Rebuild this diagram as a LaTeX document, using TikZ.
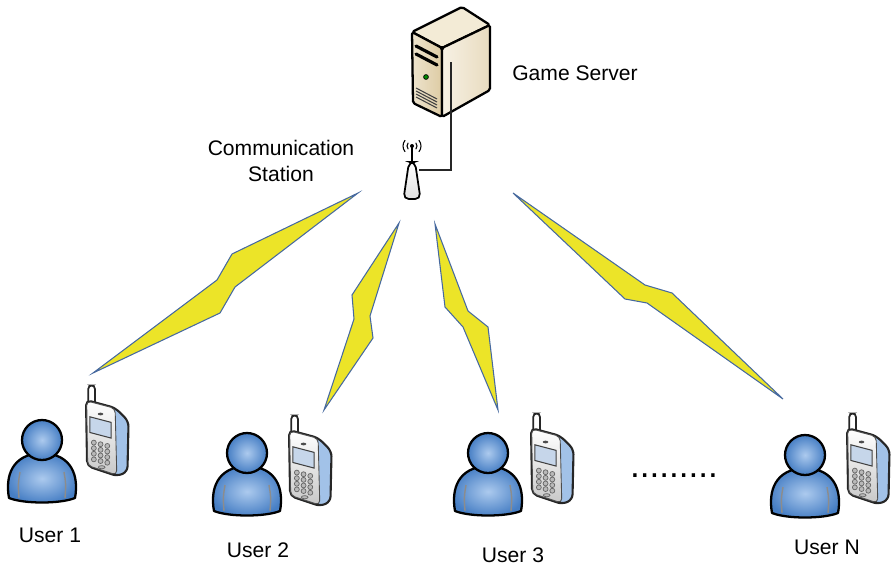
\documentclass[tikz,border=0pt]{standalone}
\usepackage{fontspec}
\setmainfont{Liberation Sans}
\definecolor{boltyellow}{RGB}{236,228,40}
\definecolor{boltedge}{RGB}{70,105,160}
\definecolor{userblue}{RGB}{70,126,196}
\definecolor{userlight}{RGB}{172,202,238}
\definecolor{phoneside}{RGB}{162,194,232}
\definecolor{phonegray}{RGB}{200,200,200}
\definecolor{screenblue}{RGB}{198,214,234}
\definecolor{srvfront}{RGB}{222,204,164}
\definecolor{srvtop}{RGB}{243,235,214}
\definecolor{srvside}{RGB}{247,241,228}
\usetikzlibrary{positioning}

\begin{document}
\begin{tikzpicture}[x=0.02cm, y=-0.02cm, every node/.style={font=\fontsize{12}{14.7}\selectfont},
  bolt/.style={fill=boltyellow, draw=boltedge, line width=0.6pt, line join=miter},
  outline/.style={draw=black, line width=1.3pt, line join=round},
  crease/.style={draw=black!45, line width=0.8pt},
  key/.style={draw=black!60, fill=gray!55, line width=0.4pt},
  pics/person/.style={code={
    \path[outline, inner color=userlight, outer color=userblue] (-33,58) .. controls (-37,36) and (-30,14) .. (0,13) .. controls (30,14) and (37,36) .. (33,58) .. controls (18,64) and (-18,64) .. cycle;
    \draw[crease] (-22,32) .. controls (-24,44) .. (-23,58);
    \draw[crease] (22,32) .. controls (24,44) .. (23,58);
    \path[outline, inner color=userlight, outer color=userblue] (0,0) circle (20);
  }},
  pics/phone/.style={code={
    \draw[black!85, line width=1pt, fill=white, rounded corners=2pt] (2,6) rectangle (8,-13);
    \draw[black!85, line width=1.2pt, fill=phoneside, rounded corners=3pt] (0,0) -- (26,7) -- (38,19) -- (37,64) -- (28,68) -- (1,59) -- cycle;
    \draw[black!70, line width=0.5pt, top color=white, bottom color=phonegray, rounded corners=2.5pt] (0.6,0.8) -- (26,7.5) -- (27.5,67) -- (1.5,58.5) -- cycle;
    \draw[black!75, line width=0.6pt, fill=screenblue] (3.5,15) -- (22.5,20) -- (22.5,34) -- (3.5,29) -- cycle;
    \fill[black!70] (13,12.5) ellipse (2.5 and 1.2);
    \foreach \c in {0,1,2}
      \foreach \r in {0,1,2,3}
        \path[key] (7+6*\c, 38+5*\r+1.5*\c) circle (2.2);
    \path[key] (14,60) ellipse (3 and 1.4);
  }}]
\useasboundingbox (0,0) rectangle (891,568);

% server tower
\draw[outline, fill=srvtop, rounded corners=1pt] (412,32) -- (462,7) -- (490,25) -- (442,48) -- cycle;
\draw[outline, left color=srvfront!55!white, right color=srvfront, rounded corners=1pt] (412,32) -- (442,48) -- (442,117) -- (413,103) -- cycle;
\draw[outline, left color=srvside, right color=srvfront!70!white, rounded corners=1pt] (442,48) -- (490,25) -- (490,90) -- (442,117) -- cycle;
\draw[line width=1.8pt, line cap=round] (416,46) -- (437,57);
\draw[line width=1.8pt, line cap=round] (416,54) -- (437,65);
\draw[black, fill=green!55!black, line width=0.4pt] (426,77) circle (2.4);
\foreach \k in {0,1,2,3}
  \draw[black!75, line width=0.6pt] (416,88+3*\k) -- (437,99+3*\k);
\node[anchor=center] (srvlbl) at (575,73) {Game Server};

% antenna
\draw[black, line width=0.9pt] (412,162) -- (412,147);
\fill (412,146) circle (2);
\foreach \r in {5,9} {
  \draw[black, line width=0.6pt] (412,146) ++(40:\r) arc (40:-40:\r);
  \draw[black, line width=0.6pt] (412,146) ++(140:\r) arc (140:220:\r);
}
\draw[black, line width=1pt, top color=white, bottom color=black!12, rounded corners=3pt] (409,162) -- (415,162) -- (420.5,199) -- (403.5,199) -- cycle;
\node[align=center] (stnlbl) at (281,161) {Communication\\Station};

% cable from server to antenna
\coordinate (srvport) at (451,62);
\coordinate (antport) at (418.5,170);
\draw[black!85, line width=0.8pt] (srvport) |- (antport);

% wireless links
\draw[bolt] (358,193) -- (232,254) -- (217,280) -- (93,373) -- (220,313) -- (235,287) -- cycle;
\draw[bolt] (399,223) -- (352,295) -- (354,319) -- (324,410) -- (373,338) -- (370,316) -- cycle;
\draw[bolt] (435,224) -- (445,307) -- (463,327) -- (498,410) -- (488,327) -- (468,311) -- cycle;
\draw[bolt] (513,193) -- (645,285) -- (672,293) -- (783,399) -- (647,303) -- (625,299) -- cycle;

% users with handsets
\pic[scale=1.12] (ph1) at (86,400) {phone};
\pic (usr1) at (42,440) {person};
\node (lbl1) at (50,535) {User 1};

\pic[scale=1.12] (ph2) at (289,430) {phone};
\pic (usr2) at (247,453) {person};
\node (lbl2) at (258,550) {User 2};

\pic[scale=1.12] (ph3) at (531,428) {phone};
\pic (usr3) at (488,453) {person};
\node (lbl3) at (513,555) {User 3};

\node[font=\fontsize{20}{24}\selectfont, anchor=base] (more) at (674,477) {.........};

\pic[scale=1.12] (phN) at (847,428) {phone};
\pic (usrN) at (805,455) {person};
\node (lblN) at (827,547) {User N};
\end{tikzpicture}
\end{document}
